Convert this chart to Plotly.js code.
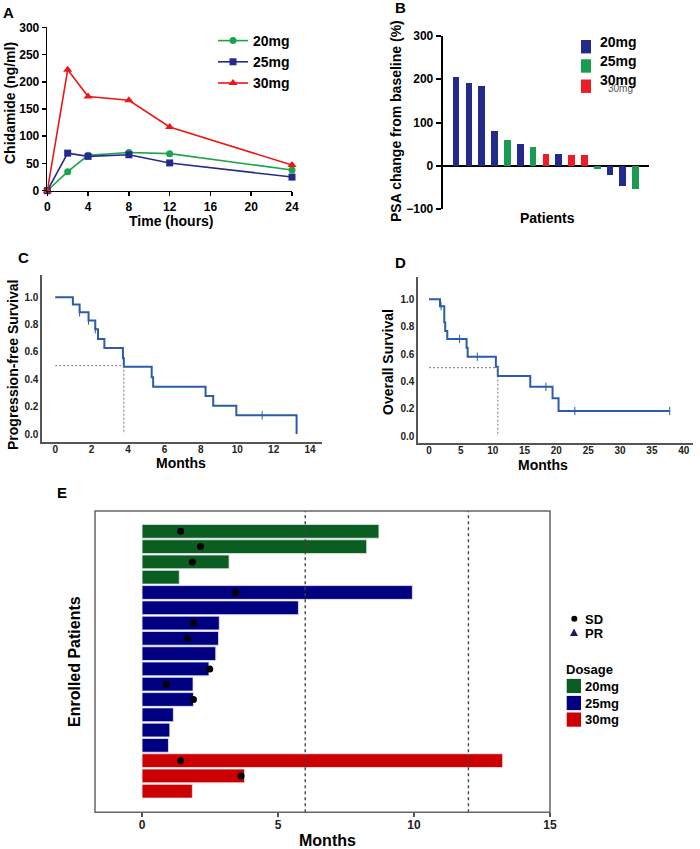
<!DOCTYPE html>
<html><head><meta charset="utf-8">
<script src="https://cdn.plot.ly/plotly-3.0.1.min.js"></script>
<style>html,body{margin:0;padding:0;background:#fff}#chart{width:700px;height:849px}</style>
</head><body><div id="chart"></div>
<script>
// ---------- Panel A: pharmacokinetics ----------
const pkTime = [0, 2, 4, 8, 12, 24];
const pk20 = [0, 35, 65, 70, 68, 38];
const pk25 = [0, 69, 63, 66, 51, 25];
const pk30 = [0, 222, 173, 166, 117, 47];
const pkTicksX = [0, 4, 8, 12, 16, 20, 24];
const pkTicksY = [0, 50, 100, 150, 200, 250, 300];

// ---------- Panel B: PSA waterfall ----------
const psaPatients = ['1','2','3','4','5','6','7','8','9','10','11','12','13','14','15'];
const psaChange = [206, 191, 185, 81, 59, 50, 43, 28, 27, 26, 24, -8, -22, -47, -54];
const psaDose = ['20mg','20mg','20mg','20mg','25mg','20mg','25mg','30mg','20mg','30mg','30mg','25mg','20mg','20mg','25mg'];
const psaTicks = [-100, 0, 100, 200, 300];
const doseLabels = ['20mg', '25mg', '30mg'];

// ---------- Panel C: PFS Kaplan-Meier ----------
const pfsTime = [0, 0.97, 1.34, 1.83, 2.2, 2.35, 2.7, 3.72, 3.77, 5.3, 5.38, 8.26, 8.68, 9.95, 13.26];
const pfsSurv = [1.0, 0.947, 0.89, 0.83, 0.766, 0.695, 0.63, 0.554, 0.492, 0.415, 0.346, 0.278, 0.207, 0.137, 0];
const pfsCensorTime = [1.34, 1.83, 2.2, 11.37];
const pfsCensorSurv = [0.89, 0.83, 0.766, 0.137];
const pfsMedian = 3.77;

// ---------- Panel D: OS Kaplan-Meier ----------
const osTime = [0, 1.73, 2.4, 2.55, 2.87, 5.9, 6.07, 10.5, 10.8, 15.9, 19.4, 20.34, 37.8];
const osSurv = [1.0, 0.95, 0.83, 0.768, 0.71, 0.646, 0.58, 0.507, 0.439, 0.36, 0.276, 0.183, 0.183];
const osCensorTime = [1.9, 4.8, 7.58, 18.35, 22.9, 37.8];
const osCensorSurv = [0.95, 0.71, 0.58, 0.36, 0.183, 0.183];
const osMedian = 10.8;
const survTicks = [0, 0.2, 0.4, 0.6, 0.8, 1.0];
const pfsTicksX = [0, 2, 4, 6, 8, 10, 12, 14];
const osTicksX = [0, 5, 10, 15, 20, 25, 30, 35, 40];

// ---------- Panel E: swimmer plot ----------
const swimPatients = ['P1','P2','P3','P4','P5','P6','P7','P8','P9','P10','P11','P12','P13','P14','P15','P16','P17','P18'];
const swimMonths = [8.71, 8.26, 3.2, 1.37, 9.94, 5.75, 2.84, 2.81, 2.71, 2.46, 1.875, 1.89, 1.15, 1.02, 0.97, 13.26, 3.77, 1.85];
const swimDose = ['20mg','20mg','20mg','20mg','25mg','25mg','25mg','25mg','25mg','25mg','25mg','25mg','25mg','25mg','25mg','30mg','30mg','30mg'];
const sdPatients = ['P1','P2','P3','P5','P7','P8','P10','P11','P12','P16','P17'];
const sdMonths = [1.42, 2.15, 1.85, 3.44, 1.89, 1.67, 2.49, 0.89, 1.89, 1.42, 3.64];
const swimTicks = [0, 5, 10, 15];
const refLines = [6, 12];

// ---------- styling ----------
const W = 700, H = 849;
const FONT = 'Liberation Sans, Arial, sans-serif';
const fx = v => v / W;
const fy = v => 1 - v / H;
const domX = (a, b) => [a / W, b / W];
const domY = (top, bot) => [1 - bot / H, 1 - top / H];
const colB = {'20mg': '#232a8c', '25mg': '#1b9a52', '30mg': '#ee1c25'};
const colE = {'20mg': '#0b5e22', '25mg': '#000080', '30mg': '#cc0000'};
const kmBlue = '#2a5caa';

const traces = [
  {x: pkTime, y: pk20, name: '20mg', type: 'scatter', mode: 'lines+markers', xaxis: 'x', yaxis: 'y',
   line: {color: '#1ea34b', width: 1.6}, marker: {symbol: 'circle', size: 7, color: '#1ea34b'}, cliponaxis: false},
  {x: pkTime, y: pk25, name: '25mg', type: 'scatter', mode: 'lines+markers', xaxis: 'x', yaxis: 'y',
   line: {color: '#25298d', width: 1.6}, marker: {symbol: 'square', size: 7, color: '#25298d'}, cliponaxis: false},
  {x: pkTime, y: pk30, name: '30mg', type: 'scatter', mode: 'lines+markers', xaxis: 'x', yaxis: 'y',
   line: {color: '#ee1515', width: 1.6}, marker: {symbol: 'triangle-up', size: 8, color: '#ee1515'}, cliponaxis: false},
  {x: psaPatients.map((p, i) => i), y: psaChange, type: 'bar', xaxis: 'x2', yaxis: 'y2', showlegend: false,
   width: 0.52, marker: {color: psaDose.map(d => colB[d])}},
  {x: pfsTime, y: pfsSurv, type: 'scatter', mode: 'lines', line: {shape: 'hv', color: kmBlue, width: 2},
   xaxis: 'x3', yaxis: 'y3', showlegend: false},
  {x: pfsCensorTime, y: pfsCensorSurv, type: 'scatter', mode: 'markers', xaxis: 'x3', yaxis: 'y3', showlegend: false,
   marker: {symbol: 'line-ns-open', size: 6, color: kmBlue, line: {width: 1, color: kmBlue}}},
  {x: osTime, y: osSurv, type: 'scatter', mode: 'lines', line: {shape: 'hv', color: kmBlue, width: 2},
   xaxis: 'x4', yaxis: 'y4', showlegend: false},
  {x: osCensorTime, y: osCensorSurv, type: 'scatter', mode: 'markers', xaxis: 'x4', yaxis: 'y4', showlegend: false,
   marker: {symbol: 'line-ns-open', size: 6, color: kmBlue, line: {width: 1, color: kmBlue}}},
  {x: swimMonths, y: swimPatients, base: 0, type: 'bar', orientation: 'h', xaxis: 'x5', yaxis: 'y5', showlegend: false,
   width: 0.9, marker: {color: swimDose.map(d => colE[d]), line: {color: '#e8e8f0', width: 0.8}}},
  {x: sdMonths, y: sdPatients, type: 'scatter', mode: 'markers', xaxis: 'x5', yaxis: 'y5', showlegend: false,
   marker: {symbol: 'circle', size: 7, color: '#000'}}
];

const tickFont = (s, c) => ({family: FONT, size: s, color: c || '#000', weight: 'bold'});
const base = {showgrid: false, zeroline: false, fixedrange: true};

const layout = {
  width: W, height: H, margin: {l: 0, r: 0, t: 0, b: 0}, paper_bgcolor: '#fff', plot_bgcolor: 'rgba(0,0,0,0)',
  font: {family: FONT},
  bargap: 0,
  showlegend: true,
  legend: {x: fx(213), y: fy(25), xanchor: 'left', yanchor: 'top', bgcolor: 'rgba(0,0,0,0)',
           font: {family: FONT, size: 14, weight: 'bold', color: '#000'}, tracegroupgap: 0, itemwidth: 30},
  xaxis: Object.assign({}, base, {domain: domX(47.3, 292), range: [0, 24], anchor: 'y', tickvals: pkTicksX,
    showline: true, linecolor: '#000', linewidth: 1.6, ticks: 'outside', ticklen: 4, tickwidth: 1.5, tickcolor: '#000',
    tickfont: tickFont(12)}),
  yaxis: Object.assign({}, base, {domain: domY(27.3, 190.7), range: [0, 300], anchor: 'x', tickvals: pkTicksY,
    showline: true, linecolor: '#000', linewidth: 1.6, ticks: 'outside', ticklen: 4, tickwidth: 1.5, tickcolor: '#000',
    tickfont: tickFont(12)}),
  xaxis2: Object.assign({}, base, {domain: domX(442.7, 649), range: [-1.04, 15.04], anchor: 'y2',
    showline: false, showticklabels: false, ticks: ''}),
  yaxis2: Object.assign({}, base, {domain: domY(36, 209), range: [-100, 300], anchor: 'x2', tickvals: psaTicks,
    zeroline: true, zerolinecolor: '#000', zerolinewidth: 2,
    showline: true, linecolor: '#000', linewidth: 2, ticks: 'outside', ticklen: 5, tickwidth: 2, tickcolor: '#000',
    tickfont: tickFont(12)}),
  xaxis3: Object.assign({}, base, {domain: domX(42.3, 321.7), range: [-0.71, 14.64], anchor: 'y3', tickvals: pfsTicksX,
    showline: true, linecolor: '#555', linewidth: 2, ticks: '', ticklabelstandoff: -3, tickfont: tickFont(10, '#222')}),
  yaxis3: Object.assign({}, base, {domain: domY(275, 441.7), range: [-0.056, 1.163], anchor: 'x3', tickvals: survTicks,
    tickformat: '.1f', showline: true, linecolor: '#555', linewidth: 2, ticks: '', tickfont: tickFont(10, '#222')}),
  xaxis4: Object.assign({}, base, {domain: domX(418.3, 693.3), range: [-1.68, 41.5], anchor: 'y4', tickvals: osTicksX,
    showline: true, linecolor: '#555', linewidth: 2, ticks: '', ticklabelstandoff: -3, tickfont: tickFont(10, '#222')}),
  yaxis4: Object.assign({}, base, {domain: domY(277.3, 443.3), range: [-0.053, 1.161], anchor: 'x4', tickvals: survTicks,
    tickformat: '.1f', showline: true, linecolor: '#555', linewidth: 2, ticks: '', tickfont: tickFont(10, '#222')}),
  xaxis5: Object.assign({}, base, {domain: domX(95, 550), range: [-1.73, 15], anchor: 'y5', tickvals: swimTicks,
    showline: false, ticks: 'outside', ticklen: 4, tickwidth: 1.2, tickcolor: '#555', ticklabelstandoff: -3,
    tickfont: tickFont(12, '#222')}),
  yaxis5: Object.assign({}, base, {domain: domY(511, 812.3), range: [18.38, -1.33], anchor: 'x5', type: 'category',
    categoryorder: 'array', categoryarray: swimPatients, showticklabels: false, ticks: '', showline: false}),
  shapes: [],
  annotations: []
};

// reference / median lines
refLines.forEach(v => layout.shapes.push({type: 'line', xref: 'x5', yref: 'y5 domain', x0: v, x1: v, y0: 0, y1: 1,
  line: {color: '#444', width: 1.4, dash: '3px,3px'}}));
layout.shapes.push({type: 'rect', xref: 'x5 domain', yref: 'y5 domain', x0: 0, x1: 1, y0: 0, y1: 1,
  line: {color: '#666', width: 1.5}});
[[pfsMedian, 'x3', 'y3'], [osMedian, 'x4', 'y4']].forEach(([m, xr, yr]) => {
  layout.shapes.push({type: 'line', xref: xr, yref: yr, x0: 0, x1: m, y0: 0.5, y1: 0.5, line: {color: '#777', width: 1, dash: '2px,2px'}});
  layout.shapes.push({type: 'line', xref: xr, yref: yr, x0: m, x1: m, y0: 0.5, y1: 0, line: {color: '#777', width: 1, dash: '2px,2px'}});
});

// text helper
function txt(text, x, y, size, opts) {
  layout.annotations.push(Object.assign({text: text, xref: 'paper', yref: 'paper', x: fx(x), y: fy(y),
    showarrow: false, xanchor: 'center', yanchor: 'middle',
    font: {family: FONT, size: size, color: '#000', weight: 'bold'}}, opts || {}));
}
// panel letters
txt('A', 8, 13, 15); txt('B', 400, 8, 15); txt('C', 23, 258, 15); txt('D', 400, 262, 15); txt('E', 62, 492, 15);
// axis titles
txt('Chidamide (ng/ml)', 10, 103, 14, {textangle: -90});
txt('Time (hours)', 171, 221, 14);
txt('PSA change from baseline (%)', 396, 121, 14, {textangle: -90});
txt('Patients', 547, 218, 14);
txt('Progression-free Survival', 13, 365, 14, {textangle: -90});
txt('Months', 181, 463, 14);
txt('Overall Survival', 388, 362, 14, {textangle: -90});
txt('Months', 543, 465, 14);
txt('Enrolled Patients', 74, 662, 16, {textangle: -90});
txt('Months', 327, 840, 16);

// legend B (manual swatches)
const legBY = [46.7, 66, 86.2];
const legBText = [42, 61, 80];
doseLabels.forEach((d, i) => {
  layout.shapes.push({type: 'rect', xref: 'paper', yref: 'paper', x0: fx(581), x1: fx(591),
    y0: fy(legBY[i] - 6.7), y1: fy(legBY[i] + 6.7), fillcolor: colB[d], line: {width: 0}});
});
txt('30mg', 620, 89, 10, {font: {family: FONT, size: 10, color: '#555'}});
doseLabels.forEach((d, i) => txt(d, 598, legBText[i], 14, {xanchor: 'left'}));

// legend E
layout.shapes.push({type: 'circle', xref: 'paper', yref: 'paper', x0: fx(571.3), x1: fx(577.3), y0: fy(621.7), y1: fy(615.7),
  fillcolor: '#000', line: {width: 0}});
layout.shapes.push({type: 'path', xref: 'paper', yref: 'paper',
  path: `M ${fx(570)} ${fy(636)} L ${fx(578)} ${fy(636)} L ${fx(574)} ${fy(628.5)} Z`, fillcolor: '#1a1a5a', line: {width: 0}});
txt('SD', 583, 619, 13, {xanchor: 'left'});
txt('PR', 583, 633, 13, {xanchor: 'left'});
txt('Dosage', 564, 669, 13, {xanchor: 'left'});
const legEY = [686, 703, 719.6];
doseLabels.forEach((d, i) => {
  layout.shapes.push({type: 'rect', xref: 'paper', yref: 'paper', x0: fx(566.7), x1: fx(581),
    y0: fy(legEY[i] + 7.1), y1: fy(legEY[i] - 7.1), fillcolor: colE[d], line: {width: 0}});
  txt(d, 583, legEY[i], 13, {xanchor: 'left'});
});

Plotly.newPlot('chart', traces, layout, {staticPlot: true, displayModeBar: false});
</script>
</body></html>
